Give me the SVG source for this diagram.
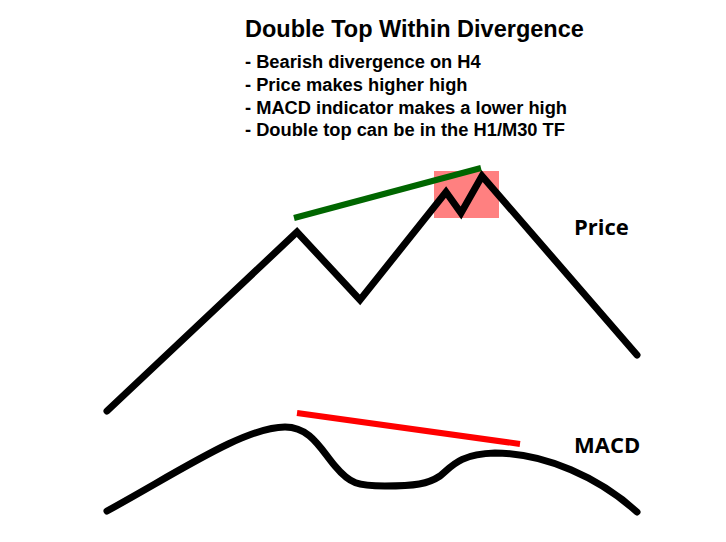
<svg xmlns="http://www.w3.org/2000/svg" width="726" height="542" viewBox="0 0 726 542">
<style>
.title{font-family:"Liberation Sans",Arial,sans-serif;font-weight:bold;font-size:23.5px;fill:#000}
.bullet{font-family:"Liberation Sans",Arial,sans-serif;font-weight:bold;font-size:18.3px;fill:#000}
.label{font-family:"Open Sans","Liberation Sans",sans-serif;font-weight:bold;font-size:22px;fill:#000}
.curve{fill:none;stroke:#000;stroke-width:7;stroke-linecap:round;stroke-linejoin:miter}
.trend{fill:none;stroke-width:6;stroke-linecap:butt}
</style>
<rect width="726" height="542" fill="#fff"/>
<g id="title">
<text class="title" x="245" y="37">Double Top Within Divergence</text>
<text class="bullet" x="245" y="68">- Bearish divergence on H4</text>
<text class="bullet" x="245" y="91">- Price makes higher high</text>
<text class="bullet" x="245" y="113.5">- MACD indicator makes a lower high</text>
<text class="bullet" x="245" y="136">- Double top can be in the H1/M30 TF</text>
</g>
<g id="highlight"><rect x="434" y="171" width="65" height="47" fill="#ff8080"/></g>
<g id="connectors">
<path id="price-line" class="curve" d="M107,411 L297,232 L360,300 L446,192 L461,213 L482,176 L637,355"/>
<path id="macd-line" class="curve" d="M107,511 C180,471 245,427 285,427 C310,427 320,448 335,466 C350,484 358,486 385,486 C415,486 428,484 440,476 C452,466 460,454 495,453 C545,453 600,478 637,512"/>
<line id="green-trend" class="trend" x1="294" y1="218" x2="481" y2="168" stroke="#006600"/>
<line id="red-trend" class="trend" x1="297" y1="413" x2="520" y2="444" stroke="#ff0000"/>
</g>
<g id="price-label"><text class="label" x="574" y="235">Price</text></g>
<g id="macd-label"><text class="label" x="574" y="453">MACD</text></g>
</svg>
